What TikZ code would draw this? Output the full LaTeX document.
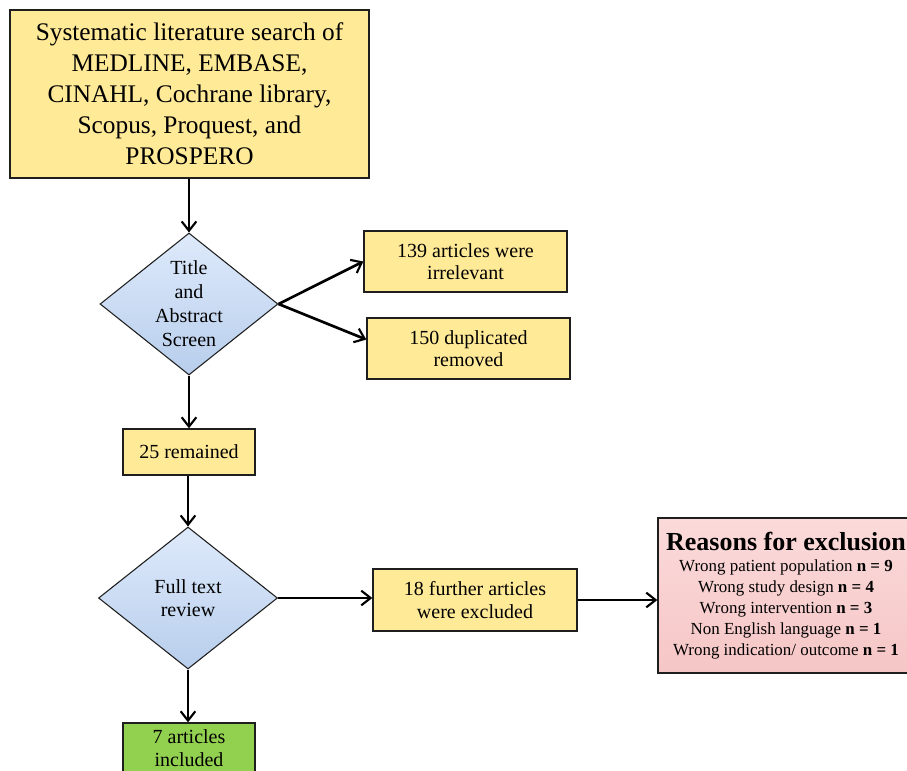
\documentclass[tikz,border=0pt]{standalone}
\usepackage{fontspec}
\setmainfont{Liberation Serif}
\usetikzlibrary{shapes.geometric,arrows.meta}
\definecolor{boxyellow}{RGB}{255,234,152}
\definecolor{boxgreen}{RGB}{146,208,80}
\definecolor{dtop}{RGB}{222,234,251}
\definecolor{dbot}{RGB}{184,206,236}
\definecolor{ptop}{RGB}{251,218,218}
\definecolor{pbot}{RGB}{246,198,198}
\definecolor{edge}{RGB}{30,30,30}
\tikzset{
  ybox/.style={draw=edge, line width=1pt, fill=boxyellow, rectangle, inner sep=0pt, align=center},
  gbox/.style={draw=edge, line width=1pt, fill=boxgreen, rectangle, inner sep=0pt, align=center},
  dbox/.style={draw=edge, line width=0.8pt, diamond, top color=dtop, bottom color=dbot, inner sep=0pt},
  pbox/.style={draw=edge, line width=1pt, rectangle, top color=ptop, bottom color=pbot, inner sep=0pt, align=center},
  arr/.style={line width=2pt, -{Straight Barb[length=7pt,width=11pt,line width=1.6pt]}},
  mfont/.style={font=\fontsize{15}{17}\selectfont}
}
\begin{document}
\begin{tikzpicture}[x=0.75pt,y=-0.75pt]
\useasboundingbox (0,0) rectangle (907,771);
\clip (0,0) rectangle (907,771);

\node[ybox, minimum width=269.25pt, minimum height=126pt, font=\fontsize{19}{23.25}\selectfont] (top) at (189.5,94)
  {Systematic literature search of\\MEDLINE, EMBASE,\\CINAHL, Cochrane library,\\Scopus, Proquest, and\\PROSPERO};

\node[dbox, minimum width=133.5pt, minimum height=106.5pt,
  label={[font=\fontsize{15}{18}\selectfont, align=center]center:Title\\and\\Abstract\\Screen}] (d1) at (189,304) {};

\node[ybox, mfont, minimum width=152.25pt, minimum height=45.75pt] (b139) at (465.5,261.5) {139 articles were\\irrelevant};
\node[ybox, mfont, minimum width=152.25pt, minimum height=45.75pt] (b150) at (468.5,348.5) {150 duplicated\\removed};

\node[ybox, mfont, minimum width=99pt, minimum height=34.5pt] (b25) at (189,452) {25 remained};

\node[dbox, minimum width=134.25pt, minimum height=106.5pt,
  label={[font=\fontsize{15}{17.25}\selectfont, align=center]center:Full text\\review}] (d2) at (188,598) {};

\node[ybox, mfont, minimum width=153pt, minimum height=46.5pt] (b18) at (475,600) {18 further articles\\were excluded};

\node[pbox, minimum width=192pt, minimum height=116.25pt, font=\fontsize{12.7}{15.75}\selectfont] (reasons) at (786,595.5)
  {{\fontsize{19.5}{22}\selectfont\bfseries Reasons for exclusion}\\
   Wrong patient population \textbf{n = 9}\\
   Wrong study design \textbf{n = 4}\\
   Wrong intervention \textbf{n = 3}\\
   Non English language \textbf{n = 1}\\
   Wrong indication/ outcome \textbf{n = 1}};

\node[gbox, font=\fontsize{15}{17.25}\selectfont, minimum width=99pt, minimum height=37.5pt] (b7) at (189,748) {7 articles\\included};

\draw[arr] (top.south -| d1.north) -- (d1.north);
\draw[arr] (d1.east) -- (b139.west);
\draw[arr] (d1.east) -- (b150.175);
\draw[arr] (d1.south) -- (b25.north -| d1.south);
\draw[arr] (b25.south -| d2.north) -- (d2.north);
\draw[arr] (d2.east) -- (b18.west |- d2.east);
\draw[arr] (b18.east) -- (reasons.west |- b18.east);
\draw[arr] (d2.south) -- (b7.north -| d2.south);
\end{tikzpicture}
\end{document}
